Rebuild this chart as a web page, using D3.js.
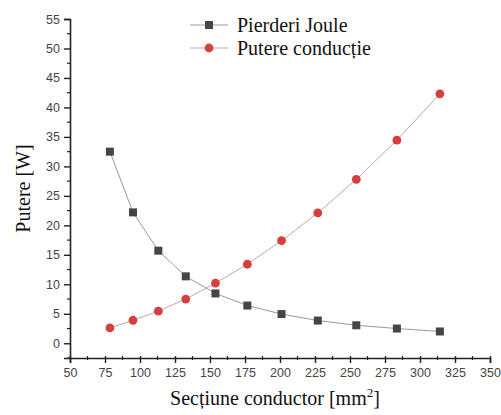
<!DOCTYPE html>
<html>
<head>
<meta charset="utf-8">
<script src="https://cdn.jsdelivr.net/npm/d3@7"></script>
<style>
  body { margin: 0; background: #fff; }
  svg { display: block; }
  .serif { font-family: "Liberation Serif", "DejaVu Serif", serif; }
  .sans { font-family: "Liberation Sans", Arial, sans-serif; }
</style>
</head>
<body>
<div id="chart"></div>
<script>
// data
const sectiune = [78.5, 95, 113.1, 132.7, 153.9, 176.7, 201.1, 227, 254.5, 283.5, 314.2]
const pierderiJoule = [32.5, 22.2, 15.7, 11.35, 8.45, 6.4, 4.95, 3.85, 3.05, 2.5, 2.0]
const putereConductie = [2.6, 3.9, 5.45, 7.5, 10.2, 13.4, 17.4, 22.1, 27.8, 34.45, 42.3]
const xTicks = [50, 75, 100, 125, 150, 175, 200, 225, 250, 275, 300, 325, 350]
const yTicks = [0, 5, 10, 15, 20, 25, 30, 35, 40, 45, 50, 55]

const series = [
  { name: 'Pierderi Joule', values: pierderiJoule, symbol: 'square', color: '#454545', line: '#9a9a9a' },
  { name: 'Putere conducție', values: putereConductie, symbol: 'circle', color: '#d5403e', line: '#c9a5a5' },
]

// size
const W = 501, H = 415
const margin = { left: 70, right: 11, top: 19, bottom: 57 }
const width = W - margin.left - margin.right
const height = H - margin.top - margin.bottom

// scale
const x = d3.scaleLinear().domain([50, 350]).range([0, width])
const y = d3.scaleLinear().domain([-2.5, 55]).range([height, 0])

const svg = d3.select('#chart').append('svg')
  .attr('width', W)
  .attr('height', H)

const plot = svg.append('g')
  .attr('transform', `translate(${margin.left}, ${margin.top})`)

// minor ticks
const xMinor = d3.range(62.5, 350, 25)
const yMinor = d3.range(-2.5, 55, 5)

const xAxis = plot.append('g')
  .attr('transform', `translate(0, ${height})`)
xAxis.selectAll('line.minor')
  .data(xMinor)
  .join('line')
  .attr('class', 'minor')
  .attr('x1', d => x(d)).attr('x2', d => x(d))
  .attr('y1', -2).attr('y2', 2)
  .attr('stroke', '#222').attr('stroke-width', 1.2)
xAxis.call(
  d3.axisBottom(x).tickValues(xTicks).tickSize(5).tickPadding(5).tickFormat(d3.format('d'))
)
xAxis.attr('font-family', null).attr('font-size', null)
xAxis.select('.domain').attr('stroke', '#222').attr('stroke-width', 1.6)
xAxis.selectAll('.tick line').attr('stroke', '#222').attr('stroke-width', 1.4).attr('y1', -2)
xAxis.selectAll('.tick text')
  .attr('class', 'sans')
  .attr('fill', '#444')
  .style('font-size', '12.5px')

const yAxis = plot.append('g')
yAxis.selectAll('line.minor')
  .data(yMinor)
  .join('line')
  .attr('class', 'minor')
  .attr('y1', d => y(d)).attr('y2', d => y(d))
  .attr('x1', -3).attr('x2', 0)
  .attr('stroke', '#222').attr('stroke-width', 1.2)
yAxis.call(d3.axisLeft(y).tickValues(yTicks).tickSize(6).tickPadding(4))
yAxis.attr('font-family', null).attr('font-size', null)
yAxis.select('.domain').attr('stroke', '#222').attr('stroke-width', 1.6)
yAxis.selectAll('.tick line').attr('stroke', '#222').attr('stroke-width', 1.4)
yAxis.selectAll('.tick text')
  .attr('class', 'sans')
  .attr('fill', '#444')
  .style('font-size', '12.5px')

// axis labels
plot.append('text')
  .attr('class', 'serif')
  .attr('text-anchor', 'middle')
  .attr('transform', `translate(${width / 2 - 5}, ${height + 47})`)
  .style('font-size', '20px')
  .attr('fill', '#111')
  .html('Secțiune conductor [mm<tspan dy="-8" font-size="13px">2</tspan><tspan dy="8">]</tspan>')

plot.append('text')
  .attr('class', 'serif')
  .attr('text-anchor', 'middle')
  .attr('transform', `translate(-40, ${height / 2}) rotate(-90)`)
  .style('font-size', '20px')
  .attr('fill', '#111')
  .text('Putere [W]')

// lines + markers
const line = d3.line()
  .x((d, i) => x(sectiune[i]))
  .y(d => y(d))

function drawSymbol(sel, s) {
  if (s.symbol === 'square') {
    sel.append('rect')
      .attr('x', -4).attr('y', -4)
      .attr('width', 8).attr('height', 8)
      .attr('fill', s.color)
  } else {
    sel.append('circle')
      .attr('r', 4.4)
      .attr('fill', s.color)
  }
}

series.forEach(s => {
  plot.append('path')
    .datum(s.values)
    .attr('d', line)
    .attr('fill', 'none')
    .attr('stroke', s.line)
    .attr('stroke-width', 1)

  plot.selectAll(null)
    .data(s.values)
    .join('g')
    .attr('transform', (d, i) => `translate(${x(sectiune[i])}, ${y(d)})`)
    .each(function() { drawSymbol(d3.select(this), s) })
})

// legend
const legend = svg.append('g').attr('transform', 'translate(190, 25)')
series.forEach((s, i) => {
  const row = legend.append('g').attr('transform', `translate(0, ${i * 23})`)
  row.append('line')
    .attr('x1', 0).attr('x2', 38)
    .attr('stroke', s.line).attr('stroke-width', 1)
  drawSymbol(row.append('g').attr('transform', 'translate(19, 0)'), s)
  row.append('text')
    .attr('class', 'serif')
    .attr('x', 47)
    .attr('dy', '0.35em')
    .style('font-size', '20px')
    .attr('fill', '#111')
    .text(s.name)
})
</script>
</body>
</html>
